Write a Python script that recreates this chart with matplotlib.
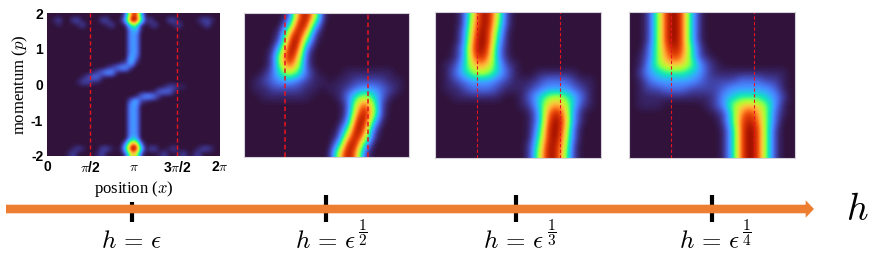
import matplotlib
matplotlib.use('Agg')
import matplotlib.pyplot as plt
import numpy as np

plt.rcParams['mathtext.fontset'] = 'cm'
plt.rcParams['font.family'] = ['Liberation Sans', 'DejaVu Sans']

W, H = 871, 261

# --- Phase space maps. One hex digit per cell, 0 = background, f = peak.
# Rows run top to bottom, short rows are padded with zeros on the right.
map_eps = [
    "00000 00000 00000 03be5",
    "01200 22000 02200 15ff7 12000 22000 012210",
    "00100 01200 00120 01671 01200 01200 001200",
    "00000 00000 00000 00451",
    "00000 00000 00000 00440",
    "00000 00000 00000 00440",
    "00000 00000 00000 00440",
    "00000 00000 00000 00440",
    "00000 00000 00000 00440",
    "00000 00000 00000 00530",
    "00000 00000 00000 12510",
    "00000 00000 00123 44100",
    "00000 00001 23441",
    "00000 00123 31",
    "00000 01221 1",
    "00000 00000 00000 00000 00001 22110",
    "00000 00000 00000 00000 00133 31",
    "00000 00000 00000 00003 44310",
    "00000 00000 00000 00352 1",
    "00000 00000 00000 00440",
    "00000 00000 00000 00440",
    "00000 00000 00000 00440",
    "00000 00000 00000 00440",
    "00000 00000 00000 00440",
    "00000 00000 00000 00440",
    "00000 00000 00000 00440",
    "00000 00000 00000 00550",
    "00000 00000 00000 04bc3",
    "00000 12100 02210 16ff6 02200 12000 012210",
    "00001 20000 12000 02992 00012 00120 120000",
]
map_half = [
    "00000 2bf91",
    "00000 5ee5",
    "00002 afa2",
    "00003 df61",
    "00016 fd3",
    "00029 fa2",
    "00028 d82",
    "00136 86310 00111 11100",
    "01234 43211 01122 22110",
    "01122 22110 11234 43210",
    "00111 11100 01368 63100",
    "00000 00000 0028d 82000",
    "00000 00000 002af 92000",
    "00000 00000 003df 61000",
    "00000 00000 016fd 30000",
    "00000 00000 02afa 20000",
    "00000 00000 05ee5 00000",
    "00000 00000 19fb2 00000",
]
map_third = [
    "00028 ee820",
    "00029 ee720",
    "0003a fd610",
    "0003b fd510",
    "0014c fc410",
    "0014b eb410",
    "01259 b9521",
    "01357 87531 00111 11000",
    "01234 44321 11233 32110",
    "01123 33211 12344 43210",
    "00111 11100 13578 75310",
    "00000 00000 1259b 95210",
    "00000 00000 014be b4100",
    "00000 00000 014cf c4100",
    "00000 00000 015df b3000",
    "00000 00000 016df a3000",
    "00000 00000 027ee 92000",
    "00000 00000 028ee 82000",
]
map_quarter = [
    "0027d fc510",
    "0027d fc510",
    "0027d fc510",
    "0027d fc510",
    "0037c ec620",
    "0137b db621",
    "01479 a9742 1",
    "02456 66542 11111 11110",
    "01344 44432 22233 32210",
    "01223 33222 23444 44310",
    "01111 11111 24566 65420",
    "01110 00001 2479a 97410",
    "00000 00000 126bd b7310",
    "00000 00000 026ce c7300",
    "00000 00000 015cf d7200",
    "00000 00000 015cf d7200",
    "00000 00000 015cf d7200",
    "00000 00000 015cf d7200",
]
# what each hex digit stands for on the colour scale
level_values = [0, .025, .07, .13, .2, .28, .37, .46, .54, .61, .67, .74, .8, .87, .94, 1]

x_tick_labels = ['0', r'$\pi$/2', r'$\pi$', r'3$\pi$/2', r'2$\pi$']
y_ticks = [2, 1, 0, -1, -2]
h_label = r'$h\,=\,\epsilon$'
exponents = ['', r'$\dfrac{1}{2}$', r'$\dfrac{1}{3}$', r'$\dfrac{1}{4}$']

# pixel boxes of the panels: left, top, right, bottom
boxes = [(47.3, 13.3, 220, 155.7), (244, 13, 409, 157), (435, 12, 601, 158), (629, 12, 795, 158)]
mark_x = [132, 326, 516, 712]
mark_top = [202, 195, 195, 195]
label_x = [101, 295, 483, 679]
exp_x = [0, 363, 552, 747]
dash_width = [1.0, 1.1, 0.8, 0.8]
ORANGE = '#ed7d31'


def to_grid(rows):
    rows = [r.replace(' ', '') for r in rows]
    n = max(len(r) for r in rows)
    return np.array([[level_values[int(c, 16)] for c in r.ljust(n, '0')] for r in rows])


def px_axes(box):
    l, t, r, b = box
    return fig.add_axes([l / W, 1 - b / H, (r - l) / W, (b - t) / H])


fig = plt.figure(figsize=(W / 100, H / 100), dpi=100)

for i, (grid, box) in enumerate(zip([map_eps, map_half, map_third, map_quarter], boxes)):
    ax = px_axes(box)
    ax.imshow(to_grid(grid), cmap='turbo', vmin=0, vmax=1, interpolation='bicubic',
              aspect='auto', extent=[0, 2 * np.pi, -2, 2])
    for xv in [np.pi / 2, 3 * np.pi / 2]:
        ax.axvline(xv, color='#e8141e', lw=dash_width[i], dashes=(3, 2))
    for s in ax.spines.values():
        s.set_color('#d4d0d8')
        s.set_linewidth(0.8)
        s.set_visible(i > 0)
    if i == 0:
        ax.set_xticks(np.arange(5) * np.pi / 2)
        ax.set_xticklabels(x_tick_labels, fontweight='bold', fontsize=10)
        ax.set_yticks(y_ticks)
        ax.set_yticklabels([str(v) for v in y_ticks], fontweight='bold', fontsize=10)
        ax.tick_params(length=0, pad=3)
        ax.set_xlabel(r'position ($x$)', family='Liberation Serif', fontsize=12, labelpad=3)
        ax.set_ylabel(r'momentum ($p$)', family='Liberation Serif', fontsize=12, labelpad=0.5)
    else:
        ax.set_xticks([])
        ax.set_yticks([])

# --- h axis along the bottom, overlay in pixel units ---
ov = fig.add_axes([0, 0, 1, 1])
ov.set_xlim(0, W)
ov.set_ylim(H, 0)
ov.axis('off')
ov.patch.set_alpha(0)
ov.annotate('', xy=(814, 209), xytext=(6, 209),
            arrowprops=dict(arrowstyle='simple,head_length=0.6,head_width=1.25,tail_width=0.62',
                            color=ORANGE, lw=0, shrinkA=0, shrinkB=0, mutation_scale=10))
for xv, top, lx, ex, et in zip(mark_x, mark_top, label_x, exp_x, exponents):
    ov.plot([xv, xv], [top, 222], color='black', lw=3, solid_capstyle='butt')
    ov.text(lx, 248, h_label, fontsize=18, ha='left', va='baseline')
    if et:
        ov.text(ex, 233, et, fontsize=11, ha='center', va='center')
ov.text(857, 220, r'$h$', fontsize=27, ha='center', va='baseline')

fig.savefig('out.png', dpi=100)
